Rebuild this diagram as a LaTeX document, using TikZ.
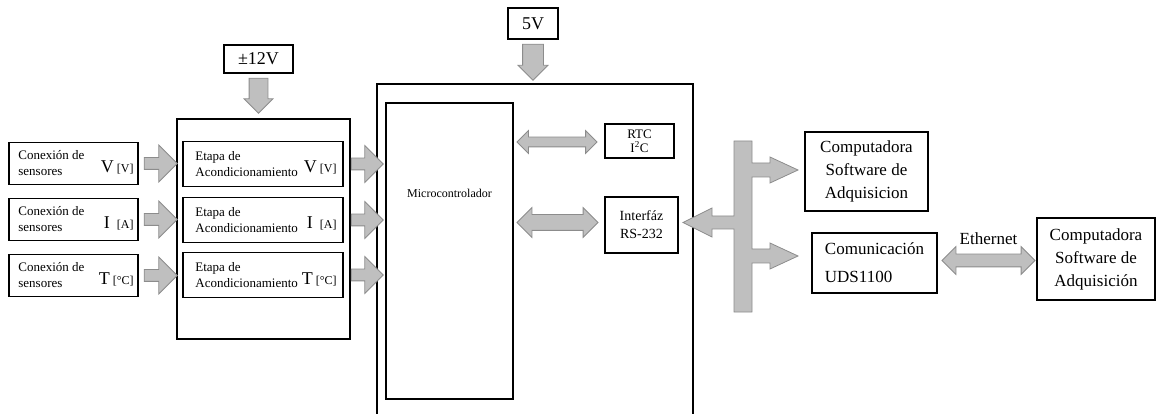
\documentclass[tikz,border=0pt]{standalone}
\usepackage{fontspec}
\setmainfont{Liberation Serif}
\usetikzlibrary{shapes.arrows,calc,positioning}

\begin{document}
\begin{tikzpicture}[x=1pt,y=-1pt,
    blk/.style={draw=black,line width=1.6pt,inner sep=0pt},
    fat/.style={single arrow,draw=black!45,fill=black!25,line width=0.8pt,inner sep=5.5pt,
      minimum height=33pt,single arrow head extend=12.5pt},
    dbl/.style={double arrow,draw=black!45,fill=black!25,line width=0.8pt},
    sml/.style={font=\fontsize{13}{16}\selectfont,align=left,inner sep=0pt}]
  \useasboundingbox (0,0) rectangle (1157,414);

  % conexion de sensores
  \node[blk,minimum width=129pt,minimum height=42pt] (s1) at (73.5,163.5) {};
  \node[blk,minimum width=129pt,minimum height=42pt] (s2) at (73.5,219.5) {};
  \node[blk,minimum width=129pt,minimum height=42pt] (s3) at (73.5,275.5) {};
  \node[sml,anchor=west] (s1t) at ([xshift=10pt]s1.west) {Conexión de\\sensores};
  \node[sml,anchor=west] (s2t) at ([xshift=10pt]s2.west) {Conexión de\\sensores};
  \node[sml,anchor=west] (s3t) at ([xshift=10pt]s3.west) {Conexión de\\sensores};
  \node[anchor=base east,inner sep=0pt] (s1u) at ($(s1.east)+(-5,9)$) {\fontsize{18}{18}\selectfont V\hspace{3pt}\fontsize{12}{12}\selectfont[V]};
  \node[anchor=base east,inner sep=0pt] (s2u) at ($(s2.east)+(-5,9)$) {\fontsize{18}{18}\selectfont I\hspace{7pt}\fontsize{12}{12}\selectfont[A]};
  \node[anchor=base east,inner sep=0pt] (s3u) at ($(s3.east)+(-5,9)$) {\fontsize{18}{18}\selectfont T\hspace{3pt}\fontsize{12}{12}\selectfont[°C]};

  % etapa de acondicionamiento
  \node[blk,minimum width=173pt,minimum height=220pt] (etapa) at (263.5,229) {};
  \node[blk,minimum width=160pt,minimum height=45pt] (e1) at (263,164) {};
  \node[blk,minimum width=160pt,minimum height=45pt] (e2) at (263,220) {};
  \node[blk,minimum width=160pt,minimum height=45pt] (e3) at (263,275) {};
  \node[sml,anchor=west] (e1t) at ([xshift=13pt]e1.west) {Etapa de\\Acondicionamiento};
  \node[sml,anchor=west] (e2t) at ([xshift=13pt]e2.west) {Etapa de\\Acondicionamiento};
  \node[sml,anchor=west] (e3t) at ([xshift=13pt]e3.west) {Etapa de\\Acondicionamiento};
  \node[anchor=base east,inner sep=0pt] (e1u) at ($(e1.east)+(-7,9)$) {\fontsize{18}{18}\selectfont V\hspace{3pt}\fontsize{12}{12}\selectfont[V]};
  \node[anchor=base east,inner sep=0pt] (e2u) at ($(e2.east)+(-7,9)$) {\fontsize{18}{18}\selectfont I\hspace{7pt}\fontsize{12}{12}\selectfont[A]};
  \node[anchor=base east,inner sep=0pt] (e3u) at ($(e3.east)+(-7,9)$) {\fontsize{18}{18}\selectfont T\hspace{3pt}\fontsize{12}{12}\selectfont[°C]};

  \node[blk,minimum width=69pt,minimum height=28pt,font=\fontsize{18}{18}\selectfont] (p12) at (258.5,59) {±12V};
  \node[blk,minimum width=50pt,minimum height=31pt,font=\fontsize{18}{18}\selectfont] (v5) at (533,23.5) {5V};

  % microcontrolador
  \draw[line width=1.6pt] (377,414) |- (693,84) -- (693,414);
  \node[blk,minimum width=127pt,minimum height=296pt] (mcu) at (449.5,251) {};
  \node[font=\fontsize{12}{12}\selectfont] (mcut) at (449.5,193) {Microcontrolador};
  \node[blk,minimum width=69pt,minimum height=34pt,align=center,font=\fontsize{13}{14}\selectfont] (rtc) at (639.5,141) {RTC\\I\textsuperscript{2}C};
  \node[blk,minimum width=73pt,minimum height=56pt,align=center,font=\fontsize{14}{18}\selectfont] (uart) at (641.5,225) {Interfáz\\RS-232};

  % salidas
  \node[blk,minimum width=123pt,minimum height=79pt,align=center,font=\fontsize{17}{23}\selectfont] (comp1) at (866.5,171.5) {Computadora\\Software de\\Adquisicion};
  \node[blk,minimum width=125pt,minimum height=60pt,align=left,font=\fontsize{17}{28}\selectfont] (comm) at (874.5,263) {Comunicación\\UDS1100};
  \node[blk,minimum width=118pt,minimum height=82pt,align=center,font=\fontsize{17}{23}\selectfont] (comp2) at (1096,259) {Computadora\\Software de\\Adquisición};

  % flechas
  \node[fat,anchor=tail] (a1) at ([xshift=5pt]s1.east) {};
  \node[fat,anchor=tail] (a2) at ([xshift=5pt]s2.east) {};
  \node[fat,anchor=tail] (a3) at ([xshift=5pt]s3.east) {};
  \node[fat,anchor=tail,minimum height=32pt] (b1) at (etapa.east |- e1) {};
  \node[fat,anchor=tail,minimum height=32pt] (b2) at (etapa.east |- e2) {};
  \node[fat,anchor=tail,minimum height=32pt] (b3) at (etapa.east |- e3) {};
  \node[fat,anchor=tail,shape border rotate=270,inner sep=9pt,minimum height=35pt,single arrow head extend=5pt] (p12a) at ([yshift=-4pt]p12.south) {};
  \node[fat,anchor=tail,shape border rotate=270,inner sep=10pt,minimum height=36pt,single arrow head extend=4.5pt] (v5a) at ([yshift=-4pt]v5.south) {};
  \node[dbl,inner sep=4.5pt,minimum height=80pt,double arrow head extend=6.5pt] (rtca) at (557,142) {};
  \node[dbl,inner sep=7.5pt,minimum height=81pt,double arrow head extend=7pt] (uarta) at (557.5,222.5) {};
  \node[dbl,inner sep=6pt,minimum height=93pt,double arrow head extend=7.5pt] (etha) at (988.5,260.5) {};
  \node[font=\fontsize{17}{17}\selectfont,above=5pt of etha] (eth) {Ethernet};

  % bus
  \draw[draw=black!45,fill=black!25,line width=0.8pt] (734,141) -- (752,141) -- (752,163) -- (770,163)
    -- (770,157) -- (798,170) -- (770,183) -- (770,177) -- (752,177) -- (752,249) -- (770,249)
    -- (770,243) -- (798,256) -- (770,269) -- (770,263) -- (752,263) -- (752,312) -- (734,312)
    -- (734,229) -- (712,229) -- (712,237) -- (683,222.5) -- (712,208) -- (712,216) -- (734,216) -- cycle;
\end{tikzpicture}
\end{document}
